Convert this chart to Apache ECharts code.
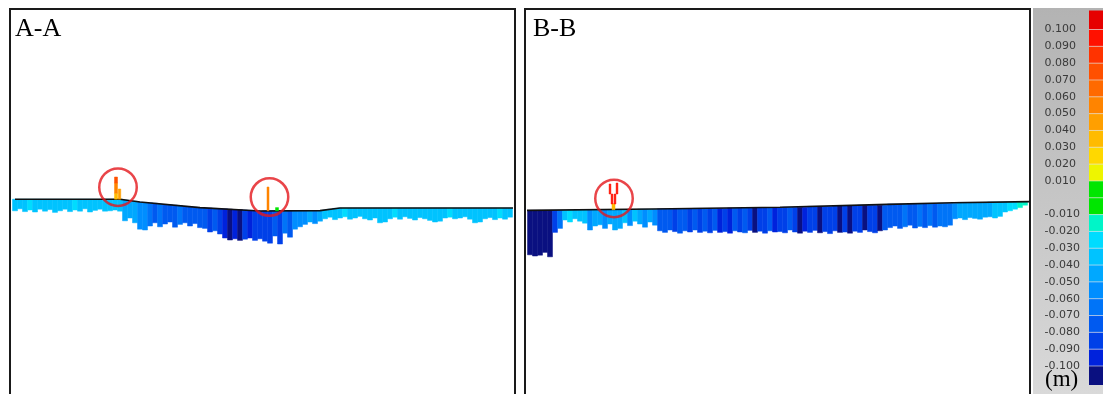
<!DOCTYPE html>
<html>
<head>
<meta charset="utf-8">
<script src="https://cdn.jsdelivr.net/npm/echarts/dist/echarts.min.js"></script>
<style>
    html, body { margin: 0; padding: 0; background: #fff; }
    #chart { width: 1103px; height: 394px; }
</style>
</head>
<body>
<div id="chart"></div>
<script>
// colour scale (m), top to bottom
var legendEdges = [0.1113, 0.10, 0.09, 0.08, 0.07, 0.06, 0.05, 0.04, 0.03, 0.02, 0.01, 0,
    -0.01, -0.02, -0.03, -0.04, -0.05, -0.06, -0.07, -0.08, -0.09, -0.10, -0.1113]
var legendColors = ['#e60000', '#ff1100', '#ff3300', '#ff5000', '#ff6a00', '#ff8400', '#ff9f00', '#ffbb00', '#ffd800', '#eef500', '#00e600',
    '#00e600', '#00f5c8', '#00dcff', '#00c3ff', '#00a8ff', '#008eff', '#0074f8', '#005af0', '#0040e8', '#0022dc', '#0a1080']
var legendTicks = [0.1, 0.09, 0.08, 0.07, 0.06, 0.05, 0.04, 0.03, 0.02, 0.01,
    -0.01, -0.02, -0.03, -0.04, -0.05, -0.06, -0.07, -0.08, -0.09, -0.1]

// section A-A : one column per metre, top / bottom of the point band (cm) and deformation (m)
var aTop = [2.7, 2.7, 2.7, 2.7, 2.7, 2.7, 2.7, 2.7, 2.7, 2.7, 2.7, 2.7, 2.7, 2.7, 2.7, 2.7, 2.7, 2.7, 2.7, 2.7, 2.7, 2.7,
    2.5, 2.4, 2.2, 2.0,
    1.9, 1.8, 1.7, 1.5, 1.4, 1.3, 1.2, 1.1, 0.9, 0.8, 0.7, 0.6,
    0.5, 0.5, 0.4, 0.3, 0.3, 0.2, 0.1, 0.1, 0.0, -0.1, -0.2, -0.25,
    -0.2, -0.2, -0.2, -0.2, -0.2, -0.2, -0.2, -0.2, -0.2, -0.2, -0.2, -0.15,
    0.0, 0.2, 0.4, 0.5,
    0.5, 0.5, 0.5, 0.5, 0.5, 0.5, 0.5, 0.5, 0.5, 0.5, 0.5, 0.5, 0.5, 0.5, 0.5, 0.5, 0.5,
    0.5, 0.5, 0.5, 0.5, 0.5, 0.5, 0.5, 0.5, 0.5, 0.5, 0.5, 0.5, 0.5, 0.5, 0.5, 0.5, 0.5]
var aBot = [-0.2, 0.3, -0.4, 0.0, -0.5, 0.2, -0.3, 0.1, -0.6, -0.2, 0.2, -0.4, 0.0, -0.3, 0.3, -0.5, -0.1, 0.2, -0.3, -0.2, 0.0,
    -0.3, -2.7, -2.0, -3.2, -4.8, -5.0, -4.0, -3.2, -4.2, -3.5, -3.0, -4.3, -3.6, -3.2, -4.0, -3.4, -4.4, -4.6, -5.5, -5.2, -6.0,
    -7.0, -7.5, -7.2, -7.6, -7.3, -7.0, -7.6, -7.2, -7.8, -8.3, -6.5, -8.5, -5.8, -6.8, -4.8, -4.2, -3.6, -3.0, -3.4, -2.8,
    -2.2, -1.8, -2.4, -2.0, -1.7, -2.3, -2.0, -1.6, -2.2, -2.5, -2.0, -3.2, -3.0, -2.2, -1.8, -2.3, -1.7, -2.1, -2.5,
    -1.9, -2.2, -2.6, -3.0, -2.8, -2.0, -1.8, -2.2, -2.0, -1.7, -2.3, -3.2, -3.0, -2.2, -1.9, -2.4, -2.0, -2.3, -1.8]
var aVal = [-0.035, -0.032, -0.036, -0.028, -0.035, -0.038, -0.033, -0.035, -0.031, -0.036, -0.034, -0.035, -0.028, -0.036,
    -0.035, -0.033, -0.037, -0.035, -0.032, -0.035, -0.036,
    -0.035, -0.045, -0.04, -0.045, -0.05, -0.055, -0.065, -0.07, -0.065, -0.07, -0.075, -0.07, -0.065, -0.072, -0.075,
    -0.07, -0.078, -0.075, -0.08, -0.078, -0.085, -0.09, -0.105, -0.095, -0.105, -0.085, -0.09, -0.082, -0.088, -0.085,
    -0.08, -0.075, -0.085, -0.065, -0.075, -0.055, -0.05, -0.055, -0.045, -0.05, -0.045,
    -0.035, -0.033, -0.036, -0.035, -0.028, -0.035, -0.038, -0.034, -0.035, -0.036, -0.032, -0.035, -0.037, -0.035,
    -0.028, -0.034, -0.035, -0.036, -0.033, -0.035, -0.035, -0.038, -0.036, -0.035, -0.032, -0.028, -0.035, -0.034,
    -0.036, -0.035, -0.037, -0.036, -0.035, -0.033, -0.035, -0.028, -0.035, -0.034]
var aGroundX = [1, 22, 26, 38, 50, 62, 66, 100.6]
var aGroundY = [2.7, 2.7, 2.0, 0.6, -0.25, -0.15, 0.5, 0.5]
var aSpikeX = [21.2, 21.2, 21.2, 21.9, 51.6, 53.4]
var aSpikeLo = [2.7, 4.2, 6.75, 2.7, -0.2, -0.2]
var aSpikeHi = [4.2, 6.75, 8.25, 5.25, 5.75, 0.6]
var aSpikeVal = [0.035, 0.055, 0.075, 0.045, 0.055, 0.005]
var aSpikeW = [0.6, 0.6, 0.6, 0.5, 0.4, 0.6]
var aCircleX = [21.6, 51.9]
var aCircleY = [5.7, 3.25]

// section B-B
var bTop = [-0.1, -0.1, -0.1, -0.1, -0.1, -0.1, -0.1, -0.1, 0.0, 0.0, 0.0, 0.0, 0.0, 0.0, 0.0, 0.0,
    0.1, 0.1, 0.1, 0.1, 0.1, 0.1, 0.2, 0.2, 0.2, 0.2,
    0.3, 0.3, 0.3, 0.3, 0.3, 0.3, 0.3, 0.4, 0.4, 0.4, 0.4, 0.4, 0.4, 0.4,
    0.5, 0.5, 0.5, 0.5, 0.5, 0.5, 0.6, 0.6, 0.6, 0.6, 0.6,
    0.7, 0.7, 0.7, 0.7, 0.7, 0.9, 0.9, 0.9, 0.9, 0.9, 1.0, 1.0, 1.0, 1.0, 1.0, 1.2, 1.2, 1.2, 1.2, 1.2, 1.2,
    1.5, 1.5, 1.5, 1.5, 1.5, 1.6, 1.6, 1.6, 1.6, 1.6, 1.7, 1.7, 1.7, 1.7,
    1.9, 1.9, 1.9, 1.9, 1.9, 1.9, 2.0, 2.0, 2.0, 2.0, 2.0, 2.0, 2.0, 2.0]
var bBot = [-11.2, -11.5, -11.3, -10.6, -11.7, -5.6, -4.6, -2.5, -3.0, -2.2, -2.8, -3.3, -5.0, -4.0, -3.7, -4.6, -3.5,
    -5.0, -4.6, -3.2, -3.9, -2.8, -3.5, -4.3, -3.0, -3.8,
    -5.2, -5.6, -5.0, -5.4, -5.8, -5.2, -5.5, -5.0, -5.6, -5.3, -5.7, -5.1, -5.6, -5.4, -5.8, -5.2, -5.5, -5.7, -5.1,
    -5.6, -5.3, -5.8, -5.2, -5.5,
    -5.4, -5.7, -5.0, -5.5, -5.8, -5.3, -5.6, -5.1, -5.7, -5.4, -5.9, -5.2, -5.6, -5.5, -5.8, -5.3, -5.6, -5.0, -5.4,
    -5.7, -5.2, -5.0,
    -4.4, -4.0, -4.6, -4.2, -3.8, -4.5, -4.1, -4.4, -3.9, -4.3, -4.0, -4.2, -3.8,
    -2.2, -2.0, -2.4, -1.9, -2.1, -2.3, -1.8, -1.7, -2.0, -1.6,
    -0.5, -0.2, 0.2, 0.6, 1.2]
var bVal = [-0.105, -0.105, -0.105, -0.105, -0.105, -0.08, -0.06, -0.035, -0.028, -0.033, -0.035, -0.038,
    -0.05, -0.045, -0.048, -0.05, -0.045, -0.04,
    -0.045, -0.038, -0.05, -0.035, -0.045, -0.052, -0.04, -0.058,
    -0.072, -0.078, -0.075, -0.08, -0.074, -0.078, -0.082, -0.076, -0.08, -0.078, -0.085, -0.079, -0.098, -0.08,
    -0.095, -0.078, -0.082, -0.079, -0.08, -0.1, -0.08, -0.082, -0.078, -0.095,
    -0.08, -0.082, -0.078, -0.085, -0.1, -0.095, -0.08, -0.082, -0.1, -0.08, -0.085, -0.082, -0.105, -0.085, -0.1,
    -0.082, -0.085, -0.105, -0.08, -0.085, -0.1, -0.078,
    -0.072, -0.07, -0.075, -0.068, -0.07, -0.072, -0.066, -0.07, -0.068, -0.072, -0.065, -0.068, -0.062,
    -0.05, -0.048, -0.045, -0.048, -0.044, -0.042, -0.045, -0.04, -0.038, -0.036,
    -0.032, -0.028, -0.024, -0.018, -0.014]
var bGroundX = [0.4, 25.6, 51, 72.4, 85.6, 101]
var bGroundY = [-0.1, 0.25, 0.7, 1.4, 1.8, 2.1]
var bSpikeX = [17.7, 17.4, 17.0, 18.0, 18.4]
var bSpikeLo = [0.1, 1.5, 4.0, 1.5, 4.0]
var bSpikeHi = [1.6, 4.0, 6.5, 4.0, 6.75]
var bSpikeVal = [0.035, 0.095, 0.095, 0.095, 0.095]
var bSpikeW = [0.6, 0.35, 0.35, 0.35, 0.35]
var bCircleX = [17.8]
var bCircleY = [2.9]

function colorOf(v) {
    for (var i = 0; i < legendColors.length; i++) {
        if (v <= legendEdges[i] && v > legendEdges[i + 1]) return legendColors[i]
    }
    return v > 0 ? legendColors[0] : legendColors[legendColors.length - 1]
}

function columns(top, bot, val) {
    return top.map(function (t, i) { return [i + 1, t, bot[i], val[i], 1] })
}
function spikes(xs, lo, hi, val, w) {
    return xs.map(function (x, i) { return [x, lo[i], hi[i], val[i], w[i]] })
}
function pairs(xs, ys) {
    return xs.map(function (x, i) { return [x, ys[i]] })
}

function renderStrip(params, api) {
    var x = api.value(0)
    var w = api.value(4)
    var p1 = api.coord([x - w / 2, Math.max(api.value(1), api.value(2))])
    var p2 = api.coord([x + w / 2, Math.min(api.value(1), api.value(2))])
    var c = colorOf(api.value(3))
    return {
        type: 'rect',
        shape: { x: p1[0], y: p1[1], width: p2[0] - p1[0], height: p2[1] - p1[1] },
        style: { fill: c, stroke: c, lineWidth: 0.5 }
    }
}

function renderCell(params, api) {
    var p1 = api.coord([api.value(0), api.value(2)])
    var p2 = api.coord([api.value(0), api.value(1)])
    var bw = api.size([1, 0])[0]
    var children = [{
        type: 'rect',
        shape: { x: p1[0] - bw / 2, y: p1[1], width: bw, height: p2[1] - p1[1] },
        style: { fill: legendColors[params.dataIndex] }
    }]
    if (params.dataIndex > 0) {
        children.push({
            type: 'line',
            shape: { x1: p1[0] - bw / 2, y1: p1[1], x2: p1[0] + bw / 2, y2: p1[1] },
            style: { stroke: 'rgba(235,235,235,0.6)', lineWidth: 1 }
        })
    }
    return { type: 'group', children: children }
}

var cells = legendColors.map(function (c, i) { return [0, legendEdges[i + 1], legendEdges[i]] })

var titleFont = { fontFamily: 'Liberation Serif', fontWeight: 'normal', color: '#000', fontSize: 26 }
var panelGrid = { top: 9, width: 505, height: 392, show: true, backgroundColor: '#fff', borderColor: '#1a1a1a', borderWidth: 2, outerBoundsMode: 'none' }
var valueX = { type: 'value', min: 0, max: 101, show: false }
var valueY = { type: 'value', min: -47.75, max: 50.25, show: false }

function panelSeries(idx, top, bot, val, sp, ground, circles) {
    return [
        { type: 'custom', xAxisIndex: idx, yAxisIndex: idx, renderItem: renderStrip, data: columns(top, bot, val), encode: { x: 0, y: [1, 2] }, z: 2, silent: true },
        { type: 'line', xAxisIndex: idx, yAxisIndex: idx, data: ground, symbol: 'none', lineStyle: { color: '#111', width: 1.6 }, z: 3, silent: true },
        { type: 'custom', xAxisIndex: idx, yAxisIndex: idx, renderItem: renderStrip, data: sp, encode: { x: 0, y: [1, 2] }, z: 4, silent: true },
        { type: 'scatter', xAxisIndex: idx, yAxisIndex: idx, data: circles, symbol: 'circle', symbolSize: 37.5,
            itemStyle: { color: 'rgba(0,0,0,0)', borderColor: '#e4161b', borderWidth: 2.5 }, z: 5, silent: true }
    ]
}

var option = {
    backgroundColor: '#fff',
    animation: false,
    title: [
        { text: 'A-A', left: 15, top: 16, padding: 0, textStyle: titleFont },
        { text: 'B-B', left: 533, top: 16, padding: 0, textStyle: titleFont },
        { text: '(m)', left: 1045, top: 368, padding: 0, textStyle: { fontFamily: 'Liberation Serif', fontWeight: 'normal', color: '#000', fontSize: 23 } }
    ],
    graphic: [{
        type: 'rect',
        shape: { x: 1033, y: 8, width: 70, height: 386 },
        style: {
            fill: new echarts.graphic.LinearGradient(0, 0, 0, 1, [
                { offset: 0, color: '#b3b3b3' },
                { offset: 1, color: '#d9d9d9' }
            ])
        },
        z: -1
    }],
    grid: [
        Object.assign({ left: 10 }, panelGrid),
        Object.assign({ left: 525 }, panelGrid),
        { left: 1089, top: 10.5, width: 14, height: 374.5, outerBoundsMode: 'none' }
    ],
    xAxis: [
        Object.assign({ gridIndex: 0 }, valueX),
        Object.assign({ gridIndex: 1 }, valueX),
        { gridIndex: 2, type: 'category', data: ['m'], show: false }
    ],
    yAxis: [
        Object.assign({ gridIndex: 0 }, valueY),
        Object.assign({ gridIndex: 1 }, valueY),
        {
            gridIndex: 2,
            type: 'value',
            min: -0.1113,
            max: 0.1113,
            axisLine: { show: false },
            axisTick: { show: false },
            splitLine: { show: false },
            axisLabel: {
                show: true,
                customValues: legendTicks,
                margin: 44.5,
                align: 'left',
                fontFamily: 'DejaVu Sans',
                fontSize: 11,
                color: '#3a3a3a',
                formatter: function (v) { return v.toFixed(3) }
            }
        }
    ],
    series: panelSeries(0, aTop, aBot, aVal, spikes(aSpikeX, aSpikeLo, aSpikeHi, aSpikeVal, aSpikeW), pairs(aGroundX, aGroundY), pairs(aCircleX, aCircleY))
        .concat(panelSeries(1, bTop, bBot, bVal, spikes(bSpikeX, bSpikeLo, bSpikeHi, bSpikeVal, bSpikeW), pairs(bGroundX, bGroundY), pairs(bCircleX, bCircleY)))
        .concat([{
            type: 'custom',
            xAxisIndex: 2,
            yAxisIndex: 2,
            renderItem: renderCell,
            data: cells,
            encode: { x: 0, y: [1, 2] },
            silent: true
        }])
}

var myChart = echarts.init(document.getElementById('chart'))
myChart.setOption(option)
</script>
</body>
</html>
